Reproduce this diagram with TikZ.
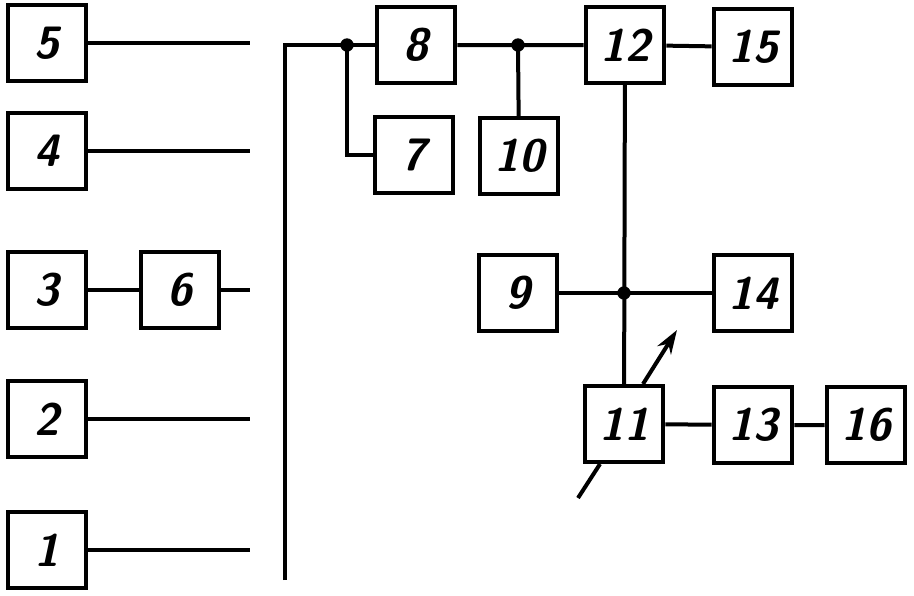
\documentclass[tikz,border=0pt]{standalone}
\usepackage{tikz}
\usetikzlibrary{arrows.meta}
\begin{document}
\begin{tikzpicture}[x=0.75pt,y=-0.75pt,line width=3pt,
    blk/.style={draw,minimum width=59pt,minimum height=57pt,inner sep=0pt,
      font=\fontsize{34}{34}\selectfont\sffamily\bfseries\itshape}]
  \useasboundingbox (0,0) rectangle (914,596);
  % inputs on the left
  \foreach \n/\y in {5/43,4/151,3/290,2/419,1/550}
    {\node[blk] (b\n) at (47,\y) {\n};
     \coordinate (e\n) at (250,\y);}
  \node[blk] (b6) at (180,290) {6};
  \draw (b5) -- (e5) (b4) -- (e4) (b3) -- (b6) -- (e3) (b2) -- (e2) (b1) -- (e1);
  % right part
  \node[blk] (b8) at (416,45) {8};
  \node[blk] (b7) at (414,155) {7};
  \node[blk] (b10) at (519,156) {10};
  \node[blk] (b12) at (625,45) {12};
  \node[blk] (b15) at (753,47) {15};
  \node[blk] (b9) at (518,293) {9};
  \node[blk] (b14) at (753,293) {14};
  \node[blk] (b11) at (624,424) {11};
  \node[blk] (b13) at (753,425) {13};
  \node[blk] (b16) at (866,425) {16};
  \coordinate (bb) at (285,580);
  \coordinate (bt) at (285,45);
  \coordinate (j1) at (347,45);
  \coordinate (j2) at (518,45);
  \coordinate (j3) at (624,293);
  \draw (bb) -- (bt) -- (j1) -- (b8);
  \draw (j1) |- (b7);
  \draw (b8) -- (b12) -- (b15);
  \draw (j2) -- (b10);
  \draw (b12) -- (b11);
  \draw (b9) -- (b14);
  \draw (b11) -- (b13) -- (b16);
  \foreach \j in {j1,j2,j3} \fill (\j) circle (5pt);
  \draw[-{Stealth[length=18pt,width=12pt]}] (b11.north) ++(19,0) -- ++(34,-54);
  \draw (b11.south) ++(-24,0) -- ++(-22,34);
\end{tikzpicture}
\end{document}
